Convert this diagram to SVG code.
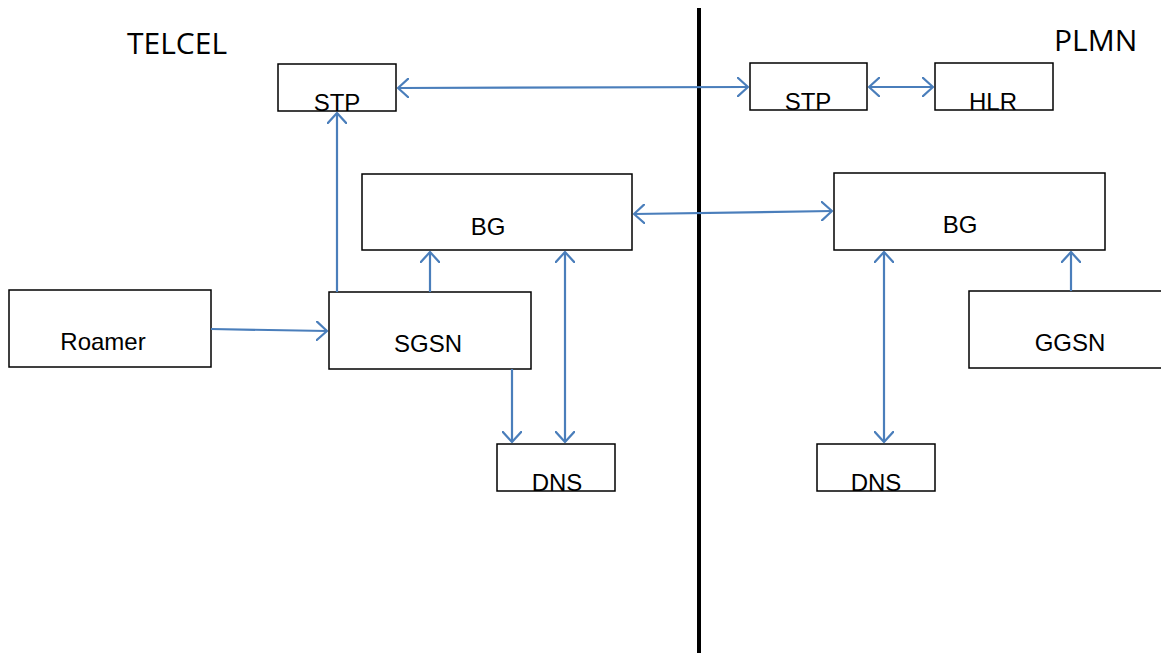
<svg xmlns="http://www.w3.org/2000/svg" width="1161" height="653" viewBox="0 0 1161 653">
<style>
.box{fill:#fff;stroke:#000;stroke-width:1.5}
.lbl{font-family:"Liberation Sans",Arial,sans-serif;font-size:24px;fill:#000;text-anchor:middle}
.title{font-family:"Open Sans","Liberation Sans",sans-serif;font-size:30px;fill:#000}
.c{stroke:#4A7EBB;stroke-width:2.2;fill:none}
</style>
<defs>
<marker id="ah" viewBox="0 0 12 20" refX="11" refY="10" markerWidth="12" markerHeight="20" markerUnits="userSpaceOnUse" orient="auto-start-reverse">
<path d="M0,0 L11,10 L0,20" fill="none" stroke="#4A7EBB" stroke-width="2.2"/>
</marker>
</defs>
<rect width="1161" height="653" fill="#fff"/>
<line x1="699" y1="8" x2="699" y2="653" stroke="#000" stroke-width="4"/>
<text class="title" x="127" y="54">TELCEL</text>
<text class="title" x="1054" y="51">PLMN</text>
<g id="stp-left"><rect class="box" x="278" y="64" width="118" height="47"/><text class="lbl" x="337" y="111">STP</text></g>
<g id="stp-right"><rect class="box" x="750" y="63" width="117" height="47"/><text class="lbl" x="808" y="110">STP</text></g>
<g id="hlr"><rect class="box" x="935" y="63" width="118" height="47"/><text class="lbl" x="993" y="110">HLR</text></g>
<g id="bg-left"><rect class="box" x="362" y="174" width="270" height="76"/><text class="lbl" x="488" y="235">BG</text></g>
<g id="bg-right"><rect class="box" x="834" y="173" width="271" height="77"/><text class="lbl" x="960" y="233">BG</text></g>
<g id="roamer"><rect class="box" x="9" y="290" width="202" height="77"/><text class="lbl" x="103" y="350">Roamer</text></g>
<g id="sgsn"><rect class="box" x="329" y="292" width="202" height="77"/><text class="lbl" x="428" y="352">SGSN</text></g>
<g id="ggsn"><rect class="box" x="969" y="291" width="200" height="77"/><text class="lbl" x="1070" y="351">GGSN</text></g>
<g id="dns-left"><rect class="box" x="497" y="444" width="118" height="47"/><text class="lbl" x="557" y="491">DNS</text></g>
<g id="dns-right"><rect class="box" x="817" y="444" width="118" height="47"/><text class="lbl" x="876" y="491">DNS</text></g>
<g id="connectors">
<line class="c" x1="398" y1="88" x2="748" y2="87" marker-start="url(#ah)" marker-end="url(#ah)"/>
<line class="c" x1="869" y1="87" x2="933" y2="87" marker-start="url(#ah)" marker-end="url(#ah)"/>
<line class="c" x1="337" y1="292" x2="337" y2="113" marker-end="url(#ah)"/>
<line class="c" x1="430" y1="292" x2="430" y2="252" marker-end="url(#ah)"/>
<line class="c" x1="565" y1="252" x2="565" y2="442" marker-start="url(#ah)" marker-end="url(#ah)"/>
<line class="c" x1="512" y1="369" x2="512" y2="442" marker-end="url(#ah)"/>
<line class="c" x1="211" y1="329" x2="327" y2="331" marker-end="url(#ah)"/>
<line class="c" x1="634" y1="214" x2="832" y2="211" marker-start="url(#ah)" marker-end="url(#ah)"/>
<line class="c" x1="884" y1="252" x2="884" y2="442" marker-start="url(#ah)" marker-end="url(#ah)"/>
<line class="c" x1="1071" y1="291" x2="1071" y2="252" marker-end="url(#ah)"/>
</g>
</svg>
